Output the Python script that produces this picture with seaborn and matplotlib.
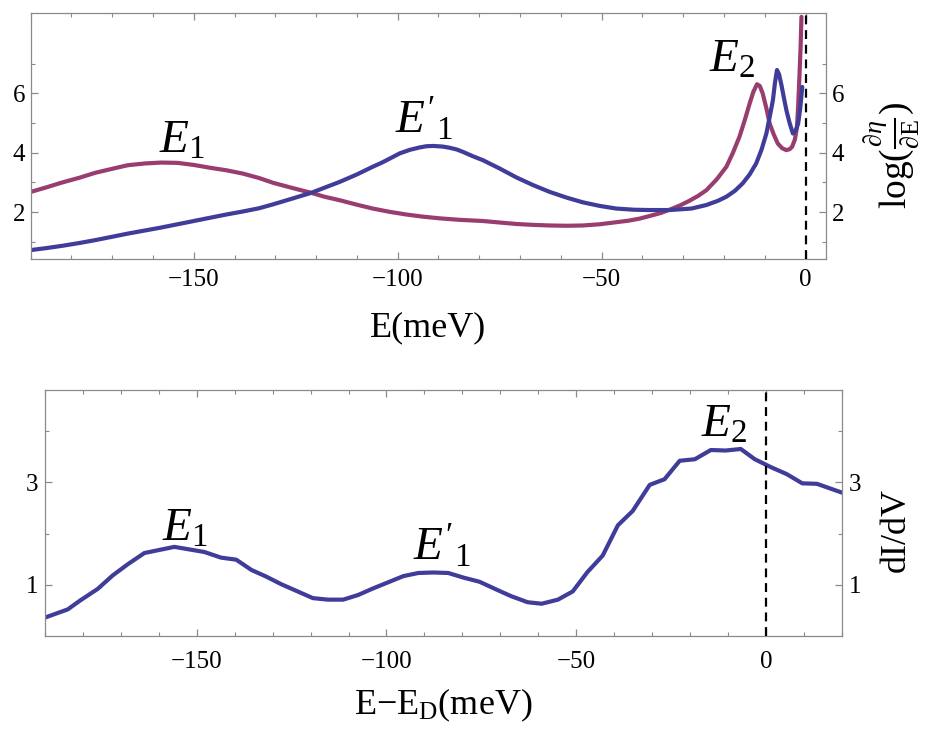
import matplotlib
matplotlib.use("Agg")
import matplotlib.pyplot as plt
import seaborn as sns
import pandas as pd
from matplotlib.ticker import MultipleLocator, FixedLocator

# ---------------- data ----------------
top_blue_E = [-190, -186, -182, -178, -174, -170, -166, -162, -158, -154, -150, -146,
              -142, -138, -134, -130.6, -126, -121.2, -118, -114.2, -110, -106.1,
              -104, -102, -99.5, -97, -94.6, -93, -91.3, -89, -87.3, -85.5, -84,
              -81.5, -79.1, -75, -70.9, -66.8, -62.7, -58.6, -54.6, -50.5, -46.4,
              -42, -38.2, -33.3, -28, -24.3, -21.5, -19.4, -17.3, -15.4, -13.7,
              -12.1, -10.8, -9.6, -8.8, -8.0, -7.5, -7.0, -6.5, -5.9, -5.3, -4.7,
              -3.9, -3.1, -2.4, -1.8, -1.3, -0.8]
top_blue_val = [0.72, 0.79, 0.87, 0.96, 1.06, 1.17, 1.28, 1.38, 1.48, 1.59, 1.70, 1.81,
                1.92, 2.02, 2.13, 2.26, 2.45, 2.65, 2.82, 3.02, 3.27, 3.53,
                3.66, 3.80, 3.98, 4.10, 4.18, 4.22, 4.23, 4.21, 4.17, 4.11, 4.03,
                3.88, 3.75, 3.47, 3.17, 2.91, 2.68, 2.49, 2.33, 2.21, 2.12,
                2.08, 2.07, 2.07, 2.12, 2.24, 2.38, 2.52, 2.72, 2.97, 3.27,
                3.64, 4.10, 4.65, 5.20, 5.77, 6.35, 6.79, 6.65, 6.28, 5.85, 5.44,
                5.00, 4.65, 4.75, 4.99, 5.50, 6.22]

top_mag_E = [-190, -186, -182.5, -178, -174.3, -170, -166.2, -162, -158, -154, -150,
             -145.8, -142, -138, -134, -130.6, -126, -121.2, -118, -114.2, -110,
             -106.1, -102, -97.9, -94, -89.7, -84.8, -79.1, -75, -70.9, -66.8, -62.7,
             -58.6, -54.6, -50.5, -46.4, -43.5, -40.7, -38.2, -35.5, -33, -30.7,
             -28.5, -26.3, -24.3, -21.8, -19.4, -17.8, -16.2, -14.9, -13.7, -12.8,
             -11.9, -11.2, -10.5, -9.6, -8.8, -7.8, -6.8, -5.7, -4.7, -3.9, -3.3,
             -2.6, -2.1, -1.8, -1.5, -1.2, -1.0]
top_mag_val = [2.68, 2.84, 2.99, 3.16, 3.32, 3.46, 3.58, 3.64, 3.67, 3.66, 3.59,
               3.49, 3.41, 3.30, 3.15, 2.99, 2.82, 2.65, 2.52, 2.40, 2.25,
               2.12, 2.01, 1.92, 1.85, 1.79, 1.74, 1.70, 1.65, 1.60, 1.57, 1.55,
               1.54, 1.55, 1.59, 1.66, 1.71, 1.78, 1.87, 1.97, 2.10, 2.23,
               2.38, 2.55, 2.74, 3.10, 3.53, 4.00, 4.54, 5.10, 5.66, 6.05,
               6.31, 6.25, 6.00, 5.50, 4.99, 4.62, 4.31, 4.15, 4.09, 4.12, 4.20,
               4.45, 4.87, 5.60, 6.56, 7.60, 8.58]

bot_E = [-190, -184, -180.8, -176.1, -172.2, -168.2, -163.8, -155.9, -148, -143.6,
         -139.6, -135.6, -131.7, -127.7, -119.4, -115.4, -111.4, -107.5, -103.5,
         -99.5, -95.5, -91.6, -87.6, -83.7, -79.7, -75.5, -71.1, -67.2, -62.8,
         -59.1, -54.8, -50.9, -47.0, -43.0, -39.0, -35.1, -30.6, -26.7, -22.7,
         -18.7, -14.5, -10.6, -6.6, -2.9, 1.5, 5.5, 9.6, 13.5, 20]
bot_dIdV = [0.36, 0.52, 0.69, 0.92, 1.18, 1.40, 1.62, 1.74, 1.64, 1.53,
            1.49, 1.29, 1.16, 1.01, 0.74, 0.71, 0.71, 0.80, 0.93,
            1.05, 1.17, 1.23, 1.24, 1.23, 1.14, 1.06, 0.91, 0.78, 0.66,
            0.63, 0.71, 0.87, 1.25, 1.57, 2.16, 2.44, 2.95, 3.06, 3.42,
            3.45, 3.63, 3.62, 3.65, 3.45, 3.29, 3.16, 2.98, 2.97, 2.80]

top_xticks = [-150, -100, -50, 0]
top_yticks = [2, 4, 6]
bot_xticks = [-150, -100, -50, 0]
bot_yticks = [1, 3]

BLUE = "#3f3d99"
MAGENTA = "#993d71"
FRAME = "#8a8a8a"

# ---------------- style ----------------
sns.set_style("white")
plt.rcParams["font.family"] = ["Liberation Serif", "DejaVu Serif"]
plt.rcParams["text.color"] = "black"
plt.rcParams["axes.labelcolor"] = "black"
plt.rcParams["mathtext.fontset"] = "custom"
plt.rcParams["mathtext.rm"] = "Liberation Serif"
plt.rcParams["mathtext.it"] = "Liberation Serif:italic"
plt.rcParams["mathtext.bf"] = "Liberation Serif:bold"
plt.rcParams["lines.solid_joinstyle"] = "round"

fig = plt.figure(figsize=(9.28, 7.4), dpi=100)
ax1 = fig.add_axes([0.033, 0.65, 0.857, 0.332])
ax2 = fig.add_axes([0.0485, 0.1405, 0.8585, 0.3324])

df_b = pd.DataFrame({"E": top_blue_E, "v": top_blue_val})
df_m = pd.DataFrame({"E": top_mag_E, "v": top_mag_val})
df_d = pd.DataFrame({"E": bot_E, "v": bot_dIdV})

sns.lineplot(data=df_m, x="E", y="v", ax=ax1, color=MAGENTA, lw=3.0,
             sort=False, estimator=None)
sns.lineplot(data=df_b, x="E", y="v", ax=ax1, color=BLUE, lw=3.0,
             sort=False, estimator=None)
sns.lineplot(data=df_d, x="E", y="v", ax=ax2, color=BLUE, lw=3.0,
             sort=False, estimator=None)

for ax in (ax1, ax2):
    ax.axvline(0, color="black", lw=1.6, ls=(0, (4, 2.6)), zorder=5)
    for s in ax.spines.values():
        s.set_visible(True)
        s.set_color(FRAME)
        s.set_linewidth(0.9)
    ax.set_xlabel("")
    ax.set_ylabel("")
    ax.xaxis.set_minor_locator(MultipleLocator(10))
    ax.tick_params(which="both", direction="in", top=True, right=True,
                   bottom=True, left=True, color=FRAME, labelsize=18,
                   labelcolor="black", labelright=True)
    ax.tick_params(which="major", length=5, width=0.9)
    ax.tick_params(which="minor", length=3, width=0.8)

# top panel
ax1.set_xlim(-190, 5)
ax1.set_ylim(0.42, 8.7)
ax1.xaxis.set_major_locator(FixedLocator(top_xticks))
ax1.yaxis.set_major_locator(FixedLocator(top_yticks))
ax1.yaxis.set_minor_locator(FixedLocator([1, 3, 5, 7]))
ax1.tick_params(axis="x", pad=7)
ax1.tick_params(axis="y", pad=4)
ax1.set_xlabel("E(meV)", fontsize=26)
ax1.xaxis.label.set_va("center")
ax1.xaxis.set_label_coords(0.5, -0.281)
ax1.yaxis.set_label_position("right")
ax1.set_ylabel(r"$\log(\frac{\partial\eta}{\partial\mathrm{E}})$", fontsize=27,
               rotation=90)
ax1.yaxis.label.set_va("center")
ax1.yaxis.label.set_ha("center")
ax1.yaxis.set_label_coords(1.082, 0.42)

ax1.text(-153, 4.0, r"$E_1$", fontsize=34, ha="center", va="baseline")
ax1.text(-93.5, 4.66, r"$E'_1$", fontsize=34, ha="center", va="baseline")
ax1.text(-18, 6.72, r"$E_2$", fontsize=34, ha="center", va="baseline")

# bottom panel
ax2.set_xlim(-190, 20)
ax2.set_ylim(0, 4.8)
ax2.xaxis.set_major_locator(FixedLocator(bot_xticks))
ax2.yaxis.set_major_locator(FixedLocator(bot_yticks))
ax2.yaxis.set_minor_locator(FixedLocator([2, 4]))
ax2.tick_params(axis="x", pad=11)
ax2.tick_params(axis="y", pad=5)
ax2.set_xlabel(r"E$-$E$_\mathrm{D}$(meV)", fontsize=26)
ax2.xaxis.label.set_va("center")
ax2.xaxis.set_label_coords(0.5, -0.280)
ax2.yaxis.set_label_position("right")
ax2.set_ylabel("dI/dV", fontsize=26, rotation=90)
ax2.yaxis.label.set_va("center")
ax2.yaxis.label.set_ha("center")
ax2.yaxis.set_label_coords(1.069, 0.431)

ax2.text(-153, 1.87, r"$E_1$", fontsize=34, ha="center", va="baseline")
ax2.text(-85.5, 1.48, r"$E'_1$", fontsize=34, ha="center", va="baseline")
ax2.text(-11, 3.89, r"$E_2$", fontsize=34, ha="center", va="baseline")

fig.savefig("out.png", dpi=100)
